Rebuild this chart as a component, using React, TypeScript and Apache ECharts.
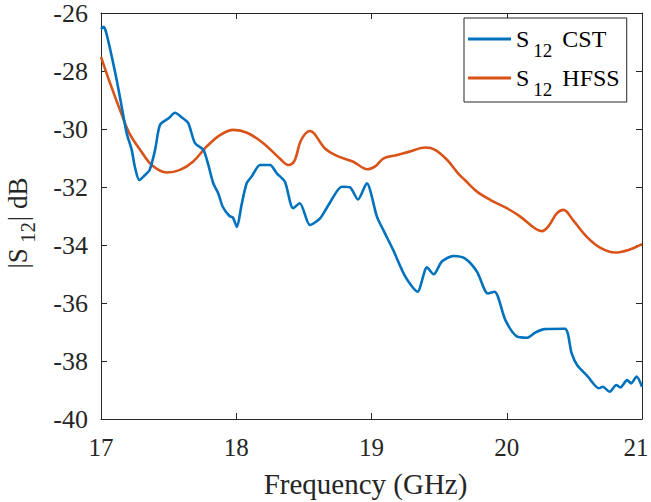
import React, { useEffect, useRef } from "react";
import * as echarts from "echarts";

// Frequency sweep (GHz) and |S12| (dB) for the two solvers
const cstFreq = [
  17.0, 17.02, 17.04, 17.08, 17.116, 17.153, 17.19, 17.227, 17.25, 17.283,
  17.325, 17.36, 17.4, 17.436, 17.5, 17.547, 17.597, 17.645, 17.695, 17.757,
  17.79, 17.83, 17.867, 17.9, 17.95, 17.975, 18.005, 18.04, 18.077, 18.114,
  18.176, 18.25, 18.3, 18.36, 18.42, 18.47, 18.545, 18.62, 18.69, 18.78,
  18.84, 18.9, 18.965, 19.04, 19.087, 19.16, 19.25, 19.34, 19.41, 19.46,
  19.52, 19.605, 19.69, 19.78, 19.86, 19.91, 19.99, 20.07, 20.15, 20.21,
  20.28, 20.43, 20.48, 20.52, 20.6, 20.68, 20.71, 20.76, 20.81, 20.84,
  20.89, 20.92, 20.96, 21.0,
];
const cstValues = [
  -26.55, -26.48, -26.7, -27.51, -28.31, -29.23, -30.15, -30.72, -31.3, -31.76,
  -31.59, -31.41, -30.72, -29.86, -29.63, -29.44, -29.6, -29.8, -30.49, -30.72,
  -31.18, -31.87, -32.22, -32.68, -33.0, -33.05, -33.38, -32.6, -31.87, -31.64,
  -31.24, -31.24, -31.53, -31.82, -32.73, -32.56, -33.31, -33.08, -32.56, -31.99,
  -32.01, -32.43, -31.87, -33.02, -33.48, -34.17, -35.09, -35.61, -34.77, -35.01,
  -34.57, -34.38, -34.46, -34.92, -35.67, -35.61, -36.59, -37.14, -37.2, -37.02,
  -36.9, -36.89, -37.74, -38.14, -38.54, -38.94, -38.89, -39.06, -38.83, -38.91,
  -38.66, -38.77, -38.54, -38.89,
];

const hfssFreq = [
  17.0, 17.067, 17.14, 17.21, 17.29, 17.375, 17.486, 17.584, 17.68, 17.78,
  17.88, 17.98, 18.08, 18.2, 18.32, 18.385, 18.43, 18.48, 18.545, 18.656,
  18.74, 18.865, 18.97, 19.03, 19.09, 19.19, 19.28, 19.4, 19.47, 19.56,
  19.64, 19.69, 19.78, 19.88, 20.0, 20.1, 20.21, 20.26, 20.31, 20.37,
  20.42, 20.49, 20.59, 20.69, 20.8, 20.9, 21.0,
];
const hfssValues = [
  -27.51, -28.42, -29.34, -30.15, -30.72, -31.24, -31.5, -31.41, -31.13, -30.61,
  -30.21, -30.03, -30.13, -30.49, -31.01, -31.24, -31.1, -30.38, -30.07, -30.67,
  -30.92, -31.13, -31.39, -31.28, -31.01, -30.9, -30.78, -30.64, -30.72, -31.07,
  -31.53, -31.76, -32.16, -32.45, -32.73, -33.02, -33.43, -33.52, -33.34, -32.91,
  -32.79, -33.14, -33.71, -34.09, -34.26, -34.17, -33.97,
];

const xTicks = { min: 17, max: 21, step: 1 };
const yTicks = { min: -40, max: -26, step: 2 };

const seriesNames = ["S12 CST", "S12 HFSS"];
const legendSuffix = ["CST", "HFSS"];

const FONT = "Liberation Serif";
const AXIS = "#262626";

const zip = (xs: number[], ys: number[]) => xs.map((x, i) => [x, ys[i]]);

export default function App() {
  const ref = useRef<HTMLDivElement>(null);

  useEffect(() => {
    if (!ref.current) return;
    const chart = echarts.init(ref.current, undefined, { renderer: "svg" });

    const frameAxis = {
      axisLine: { show: true, lineStyle: { color: AXIS, width: 1 } },
      axisTick: { show: true, inside: true, length: 6, lineStyle: { color: AXIS } },
      splitLine: { show: false },
    };

    chart.setOption({
      animation: false,
      backgroundColor: "#ffffff",
      grid: {
        left: 101,
        right: 9,
        top: 13,
        bottom: 83,
        containLabel: false,
        outerBoundsMode: "none",
      },
      legend: {
        orient: "vertical",
        left: 464,
        top: 18,
        padding: [9, 7, 3, 4],
        itemGap: 6,
        itemWidth: 43,
        itemHeight: 3,
        icon: "rect",
        borderColor: AXIS,
        borderWidth: 1,
        borderRadius: 0,
        backgroundColor: "#ffffff",
        data: seriesNames,
        formatter: (name: string) => {
          const i = seriesNames.indexOf(name);
          return `{a|S}{b|12}{a|${legendSuffix[i]}}`;
        },
        textStyle: {
          color: "#000",
          fontFamily: FONT,
          rich: {
            a: { fontSize: 24, fontFamily: FONT, color: "#000", lineHeight: 42, verticalAlign: "middle" },
            b: { fontSize: 19, fontFamily: FONT, color: "#000", verticalAlign: "bottom", padding: [0, 10, 0, 4] },
          },
        },
      },
      xAxis: [
        {
          type: "value",
          min: xTicks.min,
          max: xTicks.max,
          interval: xTicks.step,
          position: "bottom",
          ...frameAxis,
          axisLabel: {
            color: AXIS,
            fontSize: 25,
            fontFamily: FONT,
            margin: 16,
            // keep the last label inside the right edge of the canvas
            formatter: (v: number) => (v === xTicks.max ? `{edge|${v}}` : `${v}`),
            rich: {
              edge: { color: AXIS, fontSize: 25, fontFamily: FONT, padding: [0, 12, 0, 0] },
            },
          },
          name: "Frequency (GHz)",
          nameLocation: "middle",
          nameGap: 50,
          nameTextStyle: { color: AXIS, fontSize: 29, fontFamily: FONT, lineHeight: 29, padding: [0, 12, 0, 0] },
        },
        {
          type: "value",
          min: xTicks.min,
          max: xTicks.max,
          interval: xTicks.step,
          position: "top",
          ...frameAxis,
          axisLabel: { show: false },
        },
      ],
      yAxis: [
        {
          type: "value",
          min: yTicks.min,
          max: yTicks.max,
          interval: yTicks.step,
          position: "left",
          ...frameAxis,
          axisLabel: { color: AXIS, fontSize: 26, fontFamily: FONT, margin: 13 },
          name: "{m||S}{sub|12}{m|| dB}",
          nameLocation: "middle",
          nameRotate: 90,
          nameGap: 63,
          nameTextStyle: {
            color: AXIS,
            fontSize: 27,
            fontFamily: FONT,
            padding: [0, 14, 0, 0],
            rich: {
              m: { fontSize: 27, fontFamily: FONT, color: AXIS, lineHeight: 40, verticalAlign: "middle" },
              sub: { fontSize: 21, fontFamily: FONT, color: AXIS, padding: [0, 1, 0, 5], verticalAlign: "bottom" },
            },
          },
        },
        {
          type: "value",
          min: yTicks.min,
          max: yTicks.max,
          interval: yTicks.step,
          position: "right",
          ...frameAxis,
          axisLabel: { show: false },
        },
      ],
      series: [
        {
          name: seriesNames[0],
          type: "line",
          data: zip(cstFreq, cstValues),
          smooth: 0.25,
          symbol: "none",
          lineStyle: { color: "#0072BD", width: 2.6 },
          itemStyle: { color: "#0072BD" },
          z: 3,
        },
        {
          name: seriesNames[1],
          type: "line",
          data: zip(hfssFreq, hfssValues),
          smooth: 0.35,
          symbol: "none",
          lineStyle: { color: "#D95319", width: 2.6 },
          itemStyle: { color: "#D95319" },
          z: 2,
        },
      ],
    });

    return () => chart.dispose();
  }, []);

  return (
    <div
      ref={ref}
      style={{ width: 651, height: 502, position: "absolute", left: 0, top: 0, background: "#fff" }}
    />
  );
}
